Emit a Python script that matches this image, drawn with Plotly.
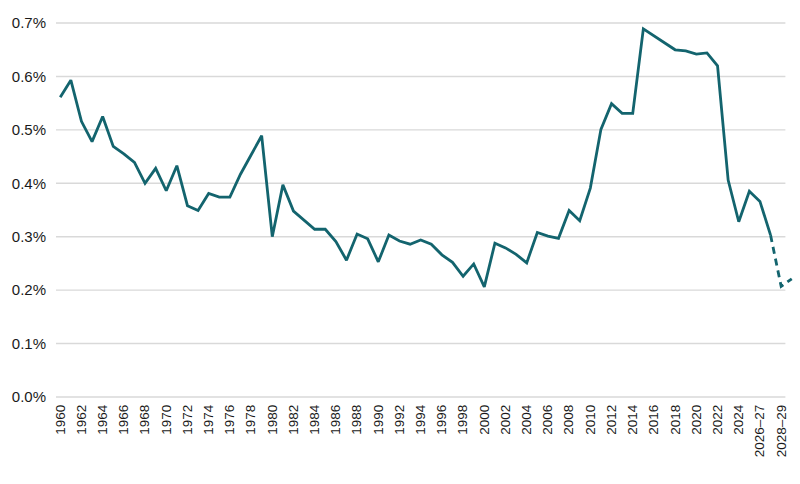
import plotly.graph_objects as go

# Categories: calendar years, then fiscal-year projections
years = [str(y) for y in range(1960, 2026)] + ["2026–27", "2027–28", "2028–29", "2029–30"]

# Share of GNI (%)
values = [
    0.561, 0.593, 0.516, 0.478, 0.525, 0.469, 0.455, 0.439, 0.400, 0.428,  # 1960s
    0.386, 0.433, 0.358, 0.349, 0.381, 0.374, 0.374, 0.417, 0.453, 0.489,  # 1970s
    0.300, 0.397, 0.348, 0.331, 0.314, 0.314, 0.291, 0.256, 0.305, 0.296,  # 1980s
    0.253, 0.303, 0.292, 0.286, 0.294, 0.286, 0.266, 0.252, 0.226, 0.249,  # 1990s
    0.206, 0.288, 0.279, 0.267, 0.251, 0.308, 0.301, 0.297, 0.349, 0.330,  # 2000s
    0.391, 0.501, 0.549, 0.531, 0.531, 0.689, 0.676, 0.663, 0.650, 0.648,  # 2010s
    0.642, 0.644, 0.620, 0.406, 0.328, 0.385, 0.366, 0.303, 0.207, 0.221,  # 2020s
]

# last point drawn solid; the rest is the dashed projection
last_actual = "2027–28"

y_ticks = [0.0, 0.1, 0.2, 0.3, 0.4, 0.5, 0.6, 0.7]
tick_labels = years[::2]

teal = "#13646e"
grid = "#d9d9d9"
font = "Liberation Sans, Arial, sans-serif"

split = years.index(last_actual)

fig = go.Figure()

fig.add_trace(go.Scatter(
    x=years[:split + 1], y=values[:split + 1],
    mode="lines", line=dict(color=teal, width=2.8),
    hoverinfo="x+y", showlegend=False,
))
fig.add_trace(go.Scatter(
    x=years[split:], y=values[split:],
    mode="lines", line=dict(color=teal, width=2.8, dash="7px,5px"),
    hoverinfo="x+y", showlegend=False,
))

# horizontal gridlines (stop at the last labelled category)
for v in y_ticks:
    fig.add_shape(type="line", xref="x", yref="y",
                  x0=-0.4, x1=len(years) - 1.6, y0=v, y1=v,
                  line=dict(color=grid, width=1.4), layer="below")

fig.update_layout(
    width=800, height=484,
    margin=dict(l=56, r=4, t=22, b=86),
    paper_bgcolor="white", plot_bgcolor="white",
    font=dict(family=font, color="#1a1a1a"),
)

fig.update_xaxes(
    type="category", categoryorder="array", categoryarray=years,
    range=[-0.4, len(years) - 0.6], automargin=False,
    tickmode="array", tickvals=tick_labels, ticktext=tick_labels,
    tickangle=-90, tickfont=dict(size=13.5),
    showgrid=False, showline=False, zeroline=False, ticks="",
    ticklabelstandoff=3,
)
fig.update_yaxes(
    range=[-0.002, 0.702], automargin=False,
    tickmode="array", tickvals=y_ticks,
    ticktext=[f"{v:.1f}%" for v in y_ticks],
    tickfont=dict(size=15),
    showgrid=False, showline=False, zeroline=False, ticks="",
    ticklabelstandoff=9,
)

# drop the browser's default body margin so the figure sits at the page corner
fig.write_html("out.html", config={"displayModeBar": False},
               post_script="document.body.style.margin='0';")
